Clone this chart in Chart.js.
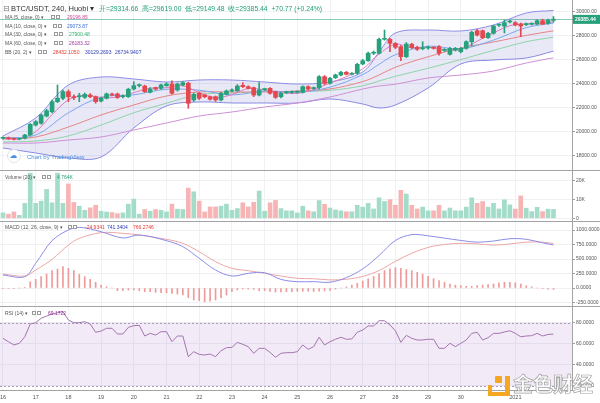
<!DOCTYPE html>
<html>
<head>
<meta charset="utf-8">
<script src="https://cdn.jsdelivr.net/npm/chart.js@4/dist/chart.umd.min.js"></script>
<style>
html,body{margin:0;padding:0;background:#fff;}
#wrap{position:relative;width:600px;height:403px;overflow:hidden;font-family:Arial,"Liberation Sans",sans-serif;}
#wrap canvas{position:absolute;left:0;}
.t{position:absolute;white-space:nowrap;line-height:1;font-size:5px;color:#555;transform:translateY(-50%);}
.ic{position:absolute;width:4px;height:4px;border:0.7px solid #9a9a9a;box-sizing:border-box;transform:translateY(-50%);background:#fff;}
.sep{position:absolute;left:0;width:600px;height:1px;background:#a3a3a3;}
</style>
</head>
<body>
<div id="wrap">
<canvas id="cPrice" width="600" height="170" style="top:0px"></canvas>
<canvas id="cVol" width="600" height="50" style="top:171px"></canvas>
<canvas id="cMacd" width="600" height="84" style="top:222px"></canvas>
<canvas id="cRsi" width="600" height="96" style="top:307px"></canvas>

<div class="sep" style="top:170px"></div>
<div class="sep" style="top:221px"></div>
<div class="sep" style="top:306px"></div>
<div class="sep" style="top:390px;width:572px"></div>
<div style="position:absolute;left:572px;top:0;width:1px;height:391px;background:#a3a3a3"></div>

<!-- header -->
<div class="t" style="left:3px;top:9px;font-size:8px;color:#777;font-family:'DejaVu Sans'">⊟</div>
<div class="t" style="left:11px;top:9px;font-size:7.5px;color:#333">BTC/USDT, 240, Huobi ▾</div>
<div class="t" style="left:99px;top:9px;font-size:6.8px;color:#1f9e78">开=29314.66&nbsp; 高=29619.00&nbsp; 低=29149.48&nbsp; 收=29385.44&nbsp; +70.77 (+0.24%)</div>

<div class="t" style="left:5px;top:17.3px">MA (5, close, 0) ▾</div>
<div class="ic" style="left:51px;top:17.3px"></div><div class="ic" style="left:56px;top:17.3px"></div>
<div class="t" style="left:67px;top:17.3px;color:#d63fa0">29196.85</div>

<div class="t" style="left:5px;top:25.7px">MA (10, close, 0) ▾</div>
<div class="ic" style="left:53px;top:25.7px"></div><div class="ic" style="left:58px;top:25.7px"></div>
<div class="t" style="left:67px;top:25.7px;color:#3a6fd8">29073.87</div>

<div class="t" style="left:5px;top:34px">MA (30, close, 0) ▾</div>
<div class="ic" style="left:54px;top:34px"></div><div class="ic" style="left:59px;top:34px"></div>
<div class="t" style="left:69px;top:34px;color:#2fb36a">27900.48</div>

<div class="t" style="left:5px;top:43px">MA (60, close, 0) ▾</div>
<div class="ic" style="left:54px;top:43px"></div><div class="ic" style="left:59px;top:43px"></div>
<div class="t" style="left:69px;top:43px;color:#a0379e">26183.32</div>

<div class="t" style="left:5px;top:51.7px">BB (20, 2) ▾</div>
<div class="ic" style="left:38px;top:51.7px"></div><div class="ic" style="left:43px;top:51.7px"></div>
<div class="t" style="left:53px;top:51.7px;color:#e53935">28432.1050</div>
<div class="t" style="left:85px;top:51.7px;color:#2d3bb5">30129.2693</div>
<div class="t" style="left:115px;top:51.7px;color:#2d3bb5">26734.9407</div>

<div style="position:absolute;left:7px;top:149px;width:14px;height:14px;border:1px solid #dde2ea;border-radius:50%;box-sizing:border-box;background:#fff"></div>
<div class="t" style="left:9.5px;top:156px;font-size:8px;color:#4a8fe0;font-family:'DejaVu Sans'">☁</div>
<div class="t" style="left:27px;top:157px;font-size:6px;color:#4a8fe0">Chart by TradingView</div>

<div class="t" style="left:5px;top:176.7px">Volume (20) ▾</div>
<div class="ic" style="left:42px;top:176.7px"></div><div class="ic" style="left:47px;top:176.7px"></div>
<div class="t" style="left:57px;top:176.7px;color:#1f9e78">4.764K</div>

<div class="t" style="left:5px;top:226.7px">MACD (12, 26, close, 9) ▾</div>
<div class="ic" style="left:68px;top:226.7px"></div><div class="ic" style="left:73px;top:226.7px"></div>
<div class="t" style="left:85px;top:226.7px;color:#e53935">-24.9341</div>
<div class="t" style="left:107px;top:226.7px;color:#2d3bb5">741.3404</div>
<div class="t" style="left:133px;top:226.7px;color:#e53935">766.2746</div>

<div class="t" style="left:5px;top:312.7px">RSI (14) ▾</div>
<div class="ic" style="left:32px;top:312.7px"></div><div class="ic" style="left:37px;top:312.7px"></div>
<div class="t" style="left:48px;top:312.7px;color:#8e2a8e">69.1722</div>

<!-- watermark -->
<div style="position:absolute;left:488px;top:376px;width:22px;height:20px;">
  <div style="position:absolute;left:7px;top:0;width:7px;height:7px;background:#f5a623;border-radius:1px"></div>
  <div style="position:absolute;left:0;top:9px;width:4px;height:11px;background:#f5a623"></div>
  <div style="position:absolute;left:0;top:16px;width:22px;height:4px;background:#f5a623"></div>
  <div style="position:absolute;left:17px;top:0;width:5px;height:20px;background:#f5a623"></div>
</div>
<div style="position:absolute;left:513px;top:374px;font-size:20px;line-height:1;font-family:'Noto Sans CJK SC';font-weight:700;color:rgba(255,255,255,0.92);-webkit-text-stroke:0.7px #a0a0a0;white-space:nowrap">金色财经</div>
</div>

<script>
// ---------- data ----------
const open = [
19470,19525,19450,19400,19475,19750,20580,20725,21330,21690,
22525,22810,23360,22940,22940,22890,23080,22940,22580,22810,
23140,23170,22940,22940,23580,23860,23830,23310,23690,23640,
23860,24000,23500,23920,24060,22670,23225,23080,22940,22940,
22670,23140,23420,23440,23890,23775,23690,23080,23530,23640,
23360,22940,23280,23300,23320,23310,23775,23620,23690,24610,
24060,24525,24750,24975,24810,24890,25670,25940,26560,26560,
27725,27725,27390,27110,26275,27310,27060,26940,27000,26990,
27110,26800,26475,26830,26690,26975,27525,28440,28440,27860,
28225,28900,28830,29170,29110,29000,28940,28980,29000,29275,
29050,29314.66];
const high = [
19600,19580,19500,19480,19800,20700,20950,21500,21900,22650,
23920,23500,23500,23100,23225,23250,23200,23000,22900,23250,
23250,23250,23100,23650,24190,24000,23900,23700,23750,24000,
24100,24270,24080,24200,24150,23250,23300,23150,23000,23000,
23300,23500,23600,23950,24110,23850,23750,24110,23650,23700,
23400,23300,23400,23400,23420,23850,23850,23750,24700,24700,
24550,24830,25050,25050,24950,25720,26050,26650,26750,27830,
28500,27800,27450,27200,27450,27400,27150,27525,27150,27100,
27200,26950,27050,27050,27050,27600,28400,28550,28500,28300,
28900,29000,29330,29300,29200,29080,29080,29100,29350,29400,
29420,29619.00];
const low = [
19400,19380,19350,19350,19420,19700,20500,20650,21250,21600,
22450,22700,22525,22700,22525,22800,22850,22400,22500,22750,
23000,22800,22850,22880,23500,23750,23300,23250,23500,23550,
23800,23150,23400,23850,21975,22550,22700,22850,22650,22550,
22600,23080,23350,23380,23700,23580,22950,23000,23450,23150,
22800,22850,23200,23220,23240,23250,23500,23550,23600,23950,
23980,24450,24680,24750,24750,24820,25600,25880,26450,26500,
27650,26690,26950,25940,26200,26950,26800,26850,26900,26900,
26400,26700,26400,26750,26600,26900,27160,28000,27780,27800,
28150,28800,28250,29100,28850,27940,28870,28900,28950,28950,
28980,29149.48];
const close = [
19525,19440,19400,19430,19750,20640,20860,21420,21775,22525,
22810,23360,22940,22860,23000,23140,22940,22525,22810,23170,
23080,22890,23000,23560,23860,23880,23360,23580,23580,23920,
24000,23225,24000,24110,22390,23140,22810,22940,22725,22670,
23225,23420,23500,23830,23775,23640,23080,23500,23560,23225,
22890,23225,23310,23320,23340,23775,23580,23650,24610,24060,
24475,24750,24975,24810,24890,25640,25940,26560,26640,27725,
27780,27390,27060,26275,27330,27025,26890,27000,27030,26980,
26560,26850,26975,26975,26975,27525,28310,28080,27860,28225,
28830,28920,29110,29210,28920,28830,28990,29010,29275,29000,
29314.66,29385.44];
// volume in thousands
const volume = [
2.9,2.2,3.4,1.6,8.0,24.2,8.0,9.2,15.5,8.3,
24.2,8.0,18.4,8.5,6.5,4.3,5.6,7.0,3.8,3.4,
3.1,2.5,2.9,7.6,10.3,2.2,4.7,3.8,4.7,4.3,
3.4,7.6,4.9,4.7,16.2,14.2,9.2,3.4,6.1,6.1,
6.5,7.6,4.3,5.2,8.3,6.1,8.6,14.6,3.8,8.3,
9.6,5.2,4.0,4.0,2.9,6.5,4.0,3.5,9.5,7.5,
5.5,4.5,4.0,3.5,3.5,7.0,6.0,8.0,5.0,11.0,
9.0,10.0,7.0,15.0,13.0,7.0,5.0,6.0,4.0,4.0,
7.0,4.0,5.5,4.0,4.0,6.0,11.0,8.0,9.0,6.0,
8.0,5.0,9.9,7.2,4.9,12.0,5.4,3.6,5.9,3.6,
4.9,4.764];

// MA5 read every third candle
const ma5Idx = [0,3,6,9,12,15,18,21,24,27,30,33,36,39,42,45,48,51,54,57,60,63,66,69,72,75,78,81,84,87,90,93,96,99,101];
const ma5 = [19450,19440,20020,21440,22680,23060,22880,22900,23280,23650,23690,23850,23290,22860,23110,23630,23510,23280,23220,23530,24080,24610,25250,26500,27320,27020,27060,26880,26870,27570,28260,28860,29010,29020,29196.85];
// other overlay lines sampled at these candle indices
const sampleIdx = [0,6,12,18,24,30,36,42,48,54,60,66,69,72,78,84,90,96,101];
const ma10  = [19500,19750,21600,22890,23100,23560,23480,23090,23420,23310,23740,24780,25640,26440,27150,26930,27660,28700,29073.87];
const ma30  = [19170,19250,19670,20580,21600,22400,23120,23240,23380,23370,23470,23850,24250,24640,25310,26040,26800,27520,27900.48];
const ma60  = [19083,19083,19333,19583,20167,20750,21333,21667,22083,22417,22917,23583,23833,23980,24500,24750,25083,25750,26183.32];
const bbUpper = [19667,21167,23917,24583,24417,24167,24333,24333,24167,24000,24167,25000,26667,28250,28500,28417,28917,29917,30129.27];
const bbBasis = [19417,19583,20417,21417,22250,23000,23333,23333,23333,23417,23590,24200,24750,25400,26270,27000,27500,28050,28432.11];
const bbLower = [18667,18250,17833,17917,20333,22167,22500,22417,22417,22417,22750,22333,22000,22250,23667,25667,26000,26167,26734.94];

const macdIdx = [0,4,6,9,12,14,18,22,25,30,33,36,39,42,45,48,51,54,57,60,63,66,69,72,75,78,81,84,87,90,93,96,99,101];
const macdLine   = [224,195,425,816,1000,1046,971,862,914,816,713,512,310,207,253,264,149,109,110,100,180,330,560,820,920,900,860,820,790,810,850,840,780,741.34];
const macdSignal = [240,207,310,494,741,856,954,943,914,839,770,626,454,339,299,253,207,167,160,140,150,200,300,460,600,700,750,770,760,740,760,790,790,766.27];
const macdHist = [
-10,-8,-5,0,10,109,150,196,241,299,
327,368,339,299,236,196,150,98,52,23,
0,-46,-46,-35,-35,-46,-63,-63,-75,-80,
-80,-92,-104,-121,-167,-207,-218,-236,-225,-207,
-167,-121,-63,-34,-17,-17,-23,-46,-46,-57,
-69,-69,-63,-63,-57,-57,-55,-60,-55,-50,
-40,-20,0,20,50,80,120,160,200,250,
300,330,350,340,320,300,270,240,200,160,
130,100,70,50,40,30,30,40,50,60,
70,90,100,100,90,70,40,20,0,-10,
-20,-24.93];

const rsi = [
65.2,62,58.9,60.5,66.7,78.8,80,84.2,86.3,88.2,
89.5,90.4,82.6,80,80,81,78.8,70.9,72.1,74.7,
74.7,69.3,69.3,75.6,77.2,77.5,67.4,69.9,68.3,71.5,
71.5,62,67.4,67.4,47.8,52.5,50,49.4,50.3,47.8,
53.5,56.3,56.6,61.4,59.5,57.3,51,55.7,55.7,51.9,
47.2,51,51.6,51.6,52.5,58.9,54.8,57.3,66.2,58.9,
62,64.3,66.2,64.3,64.6,70.9,73.1,76.9,76.9,81.9,
81.9,77.8,72.4,61.4,68,65.2,63.6,63.6,64.3,64.3,
55.7,55.7,60.5,57.3,60.5,63.6,69.9,70.9,63.6,65.8,
69.9,69.9,71.2,72.4,69.9,66.7,67.4,67.7,69.9,67.4,
68.9,69.17];
const rsiBands = [80, 20];

const dayTicks  = [0,6,12,18,24,30,36,42,48,54,60,66,72,78,84,94];
const dayLabels = ['16','17','18','19','20','21','22','23','24','25','26','27','28','29','30','2021'];
const priceTicks = [18000,20000,22000,24000,26000,28000,30000];
const volTicks = [0,10,20];
const macdTicks = [-250,0,250,500,750,1000];
const rsiTicks = [20,40,60,80];

// ---------- chart setup ----------
const FONT = 'Arial, "Liberation Sans", sans-serif';
Chart.defaults.font.family = FONT;
Chart.defaults.animation = false;
const UP = '#26a17b', DN = '#e5474f';
const idx = open.map((_, i) => i);
const candleCol = idx.map(i => close[i] >= open[i] ? UP : DN);
const volCol = idx.map(i => close[i] >= open[i] ? '#a3dcc8' : '#f7b4b4');

function xScale(show) {
  return {
    type: 'linear', min: -0.55, max: 104.4, offset: false,
    afterBuildTicks: s => { s.ticks = dayTicks.map(v => ({ value: v })); },
    grid: { color: '#eff1f5', drawTicks: false, offset: false },
    border: { display: false },
    ticks: { display: show, autoSkip: false, maxRotation: 0, minRotation: 0, padding: 4,
      font: { size: 5.5 }, color: '#555', callback: (v, i) => dayLabels[i] },
    afterFit: s => { s.height = show ? 13 : 0; s.paddingLeft = 0; s.paddingRight = 0; }
  };
}
function yScale(min, max, ticks, fmt) {
  return {
    position: 'right', min, max,
    afterBuildTicks: s => { s.ticks = ticks.map(v => ({ value: v })); },
    grid: { color: '#eff1f5', drawTicks: true, tickLength: 3, tickColor: '#a3a3a3' },
    border: { display: false },
    ticks: { font: { size: 5 }, color: '#555', padding: 1, autoSkip: false, callback: fmt },
    afterFit: s => { s.width = 28; s.paddingTop = 0; s.paddingBottom = 0; }
  };
}
const baseOpts = {
  responsive: false, devicePixelRatio: 1, animation: false, events: [],
  layout: { padding: 0 },
  plugins: { legend: { display: false }, tooltip: { enabled: false } }
};
function line(xs, ys, color, order, extra) {
  return Object.assign({ type: 'line', data: xs.map((x, k) => ({ x, y: ys[k] })),
    borderColor: color, borderWidth: 1, pointRadius: 0, tension: 0.35, fill: false, order }, extra || {});
}

const lastPricePlugin = {
  id: 'lastPrice',
  beforeDatasetsDraw(chart) {
    const y = Math.round(chart.scales.y.getPixelForValue(close[close.length - 1])) + 0.5;
    const a = chart.chartArea, ctx = chart.ctx;
    ctx.save(); ctx.strokeStyle = 'rgba(38,161,123,0.55)'; ctx.lineWidth = 1;
    ctx.beginPath(); ctx.moveTo(a.left, y); ctx.lineTo(a.right, y); ctx.stroke(); ctx.restore();
  },
  afterDraw(chart) {
    const v = close[close.length - 1];
    const y = chart.scales.y.getPixelForValue(v);
    const ctx = chart.ctx, x0 = chart.chartArea.right + 1;
    ctx.save(); ctx.fillStyle = UP; ctx.fillRect(x0, y - 4.5, 27, 9);
    ctx.fillStyle = '#fff'; ctx.font = 'bold 5px ' + FONT; ctx.textBaseline = 'middle';
    ctx.fillText(v.toFixed(2), x0 + 2, y + 0.3); ctx.restore();
  }
};

new Chart(document.getElementById('cPrice'), {
  type: 'bar',
  data: { datasets: [
    { type: 'bar', data: idx.map(i => ({ x: i, y: [Math.min(open[i], close[i]), Math.max(open[i], close[i])] })),
      backgroundColor: candleCol, barThickness: 4, minBarLength: 1, grouped: false, order: 0 },
    { type: 'bar', data: idx.map(i => ({ x: i, y: [low[i], high[i]] })),
      backgroundColor: candleCol, barThickness: 1, grouped: false, order: 1 },
    line(ma5Idx, ma5, '#e07bbf', 2, { tension: 0.3 }),
    line(sampleIdx, ma10, '#7aa7f0', 3),
    line(sampleIdx, bbBasis, '#e58585', 4),
    line(sampleIdx, ma30, '#8fd3a8', 5),
    line(sampleIdx, ma60, '#cf8fd6', 6),
    line(sampleIdx, bbUpper, '#8e8ee6', 8, { fill: '+1', backgroundColor: 'rgba(80,80,185,0.13)' }),
    line(sampleIdx, bbLower, '#8e8ee6', 9)
  ]},
  options: Object.assign({}, baseOpts, {
    scales: { x: xScale(false), y: yScale(16833, 31000, priceTicks, v => v.toFixed(2)) }
  }),
  plugins: [lastPricePlugin]
});

new Chart(document.getElementById('cVol'), {
  type: 'bar',
  data: { datasets: [
    { data: idx.map(i => ({ x: i, y: volume[i] })), backgroundColor: volCol, barThickness: 4, grouped: false }
  ]},
  options: Object.assign({}, baseOpts, {
    scales: { x: xScale(false), y: yScale(-1.45, 25.36, volTicks, v => v === 0 ? '0' : v + 'K') }
  })
});

new Chart(document.getElementById('cMacd'), {
  type: 'bar',
  data: { datasets: [
    { type: 'bar', data: idx.map(i => ({ x: i, y: macdHist[i] })), backgroundColor: '#ef9a9a', barThickness: 1, grouped: false, order: 3 },
    line(macdIdx, macdSignal, '#eda6a6', 2),
    line(macdIdx, macdLine, '#8c8ce8', 1)
  ]},
  options: Object.assign({}, baseOpts, {
    scales: { x: xScale(false), y: yScale(-310, 1138, macdTicks, v => v.toFixed(4)) }
  })
});

const rsiBandPlugin = {
  id: 'rsiBand',
  beforeDatasetsDraw(chart) {
    const s = chart.scales.y, a = chart.chartArea, ctx = chart.ctx;
    const yTop = s.getPixelForValue(rsiBands[0]), yBot = s.getPixelForValue(rsiBands[1]);
    ctx.save();
    ctx.fillStyle = 'rgba(150,80,180,0.12)';
    ctx.fillRect(a.left, yTop, a.right - a.left, yBot - yTop);
    ctx.strokeStyle = '#a89ab8'; ctx.lineWidth = 1; ctx.setLineDash([2, 2]);
    [yTop, yBot].forEach(y => { const yy = Math.round(y) + 0.5; ctx.beginPath(); ctx.moveTo(a.left, yy); ctx.lineTo(a.right, yy); ctx.stroke(); });
    ctx.restore();
  }
};
new Chart(document.getElementById('cRsi'), {
  type: 'line',
  data: { datasets: [ line(idx, rsi, '#a475b0', 1, { tension: 0 }) ] },
  options: Object.assign({}, baseOpts, {
    scales: { x: xScale(true), y: yScale(16.2, 94.9, rsiTicks, v => v.toFixed(4)) }
  }),
  plugins: [rsiBandPlugin]
});
</script>
</body>
</html>
